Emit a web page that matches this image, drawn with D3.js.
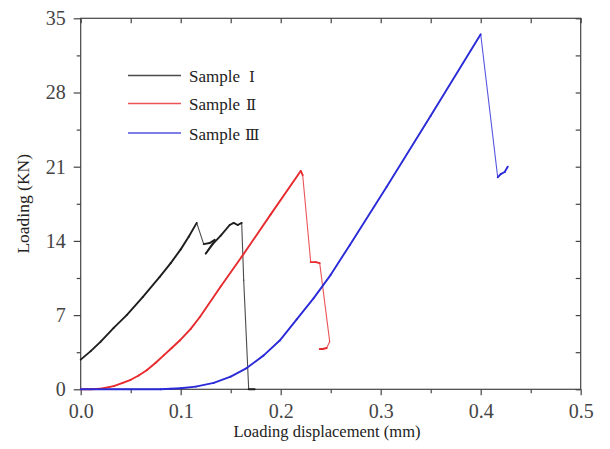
<!DOCTYPE html>
<html>
<head>
<meta charset="utf-8">
<script src="https://cdn.jsdelivr.net/npm/d3@7"></script>
<style>
  body { margin: 0; background: #fff; }
</style>
</head>
<body>
<div id="chart"></div>
<script>
// data: [displacement mm, load KN]
const sample1 = [[0, 2.8], [0.01, 3.6], [0.02, 4.5], [0.033, 5.8], [0.046, 7.0], [0.062, 8.7],
  [0.079, 10.6], [0.09, 11.9], [0.1, 13.2], [0.108, 14.4], [0.116, 15.7],
  [0.123, 13.7], [0.129, 13.8], [0.134, 14.1], [0.125, 12.8], [0.132, 13.7],
  [0.14, 14.5], [0.149, 15.5], [0.153, 15.7], [0.157, 15.5], [0.161, 15.7],
  [0.163, 10.3], [0.168, 0], [0.174, 0]];
const sample2 = [[0, 0], [0.01, 0], [0.02, 0.05], [0.033, 0.3], [0.042, 0.6], [0.05, 0.9],
  [0.058, 1.3], [0.066, 1.8], [0.075, 2.5], [0.083, 3.2], [0.091, 3.9], [0.099, 4.6],
  [0.11, 5.7], [0.119, 6.8], [0.14, 9.7], [0.161, 12.5], [0.19, 16.5], [0.22, 20.6],
  [0.222, 20.2], [0.23, 12.0], [0.235, 12.0], [0.239, 11.9], [0.249, 4.5], [0.246, 3.9],
  [0.242, 3.8], [0.239, 3.8]];
const sample3 = [[0, 0], [0.08, 0], [0.09, 0.05], [0.1, 0.1], [0.115, 0.25], [0.133, 0.6],
  [0.15, 1.2], [0.166, 2.0], [0.183, 3.2], [0.199, 4.6], [0.216, 6.6], [0.233, 8.6],
  [0.25, 10.8], [0.269, 13.6], [0.306, 19.1], [0.35, 25.8], [0.4, 33.5],
  [0.417, 20.0], [0.42, 20.3], [0.424, 20.5], [0.427, 21.0]];
const seriesNumerals = ["Ⅰ", "Ⅱ", "Ⅲ"];
const seriesColors = ["#1e1e1e", "#e62a2e", "#2a2ad8"];
const xTicks = [0, 0.1, 0.2, 0.3, 0.4, 0.5];
const yTicks = [0, 7, 14, 21, 28, 35];

const width = 610, height = 449;
const margin = {top: 18.3, right: 29.3, bottom: 59.7, left: 80.7};
const serif = 'Liberation Serif';

const svg = d3.select('#chart').append('svg')
  .attr('width', width).attr('height', height)
  .attr('font-family', serif);

const x = d3.scaleLinear().domain([0, 0.5]).range([margin.left, width - margin.right]);
const y = d3.scaleLinear().domain([0, 35]).range([height - margin.bottom, margin.top]);

const xMinor = d3.range(0.05, 0.5, 0.1);
const yMinor = d3.range(3.5, 35, 7);

// frame
svg.append('rect')
  .attr('x', x(0)).attr('y', y(35))
  .attr('width', x(0.5) - x(0)).attr('height', y(0) - y(35))
  .attr('fill', 'none').attr('stroke', '#444').attr('stroke-width', 1.2);

function styleAxis(g) {
  g.attr('font-family', serif).attr('font-size', 20);
  g.select('.domain').remove();
  g.selectAll('line').attr('stroke', '#444').attr('stroke-width', 1.2);
  g.selectAll('text').attr('fill', '#444');
}

// bottom axis
svg.append('g').attr('transform', `translate(0,${y(0)})`)
  .call(d3.axisBottom(x).tickValues(xTicks).tickFormat(d3.format('.1f')).tickSize(6).tickPadding(9))
  .call(styleAxis);
svg.append('g').attr('transform', `translate(0,${y(0)})`)
  .call(d3.axisBottom(x).tickValues(xMinor).tickFormat('').tickSize(4))
  .call(styleAxis);
// top ticks inward
svg.append('g').attr('transform', `translate(0,${y(35)})`)
  .call(d3.axisBottom(x).tickValues(xTicks.concat(xMinor)).tickFormat('').tickSize(5))
  .call(styleAxis);

// left axis
svg.append('g').attr('transform', `translate(${x(0)},0)`)
  .call(d3.axisLeft(y).tickValues(yTicks).tickSize(7).tickPadding(8))
  .call(styleAxis);
svg.append('g').attr('transform', `translate(${x(0)},0)`)
  .call(d3.axisLeft(y).tickValues(yMinor).tickFormat('').tickSize(4))
  .call(styleAxis);
// right ticks inward
svg.append('g').attr('transform', `translate(${x(0.5)},0)`)
  .call(d3.axisLeft(y).tickValues(yTicks.concat(yMinor)).tickFormat('').tickSize(5))
  .call(styleAxis);

// curves: loading parts drawn thicker, falling (unloading) parts thinner
[sample1, sample2, sample3].forEach((s, i) => {
  svg.append('g').selectAll('line')
    .data(d3.pairs(s))
    .join('line')
    .attr('x1', d => x(d[0][0])).attr('y1', d => y(d[0][1]))
    .attr('x2', d => x(d[1][0])).attr('y2', d => y(d[1][1]))
    .attr('stroke', seriesColors[i])
    .attr('stroke-width', d => d[1][1] < d[0][1] - 0.5 ? 1.1 : 1.9)
    .attr('stroke-opacity', d => d[1][1] < d[0][1] - 0.5 ? 0.8 : 1)
    .attr('stroke-linecap', 'round');
});

// legend
const legendY = [75.5, 103.5, 133];
const numeralDx = [9, 6, 5];
seriesNumerals.forEach((num, i) => {
  svg.append('line')
    .attr('x1', 128).attr('x2', 181)
    .attr('y1', legendY[i]).attr('y2', legendY[i])
    .attr('stroke', seriesColors[i]).attr('stroke-width', 1.5).attr('opacity', 0.8);
  const t = svg.append('text')
    .attr('x', 189).attr('y', legendY[i] + 6.5)
    .attr('fill', '#222')
    .attr('font-size', 17);
  t.append('tspan').text('Sample');
  t.append('tspan').attr('dx', numeralDx[i])
    .attr('font-family', 'DejaVu Serif').attr('font-size', 15)
    .text(num);
});

// axis titles
svg.append('text')
  .attr('x', 327).attr('y', 437)
  .attr('text-anchor', 'middle').attr('fill', '#222')
  .attr('font-size', 16.5)
  .text('Loading displacement (mm)');
svg.append('text')
  .attr('transform', `translate(29,${(y(0) + y(35)) / 2}) rotate(-90)`)
  .attr('text-anchor', 'middle').attr('fill', '#222')
  .attr('font-size', 17.5)
  .text('Loading (KN)');
</script>
</body>
</html>
